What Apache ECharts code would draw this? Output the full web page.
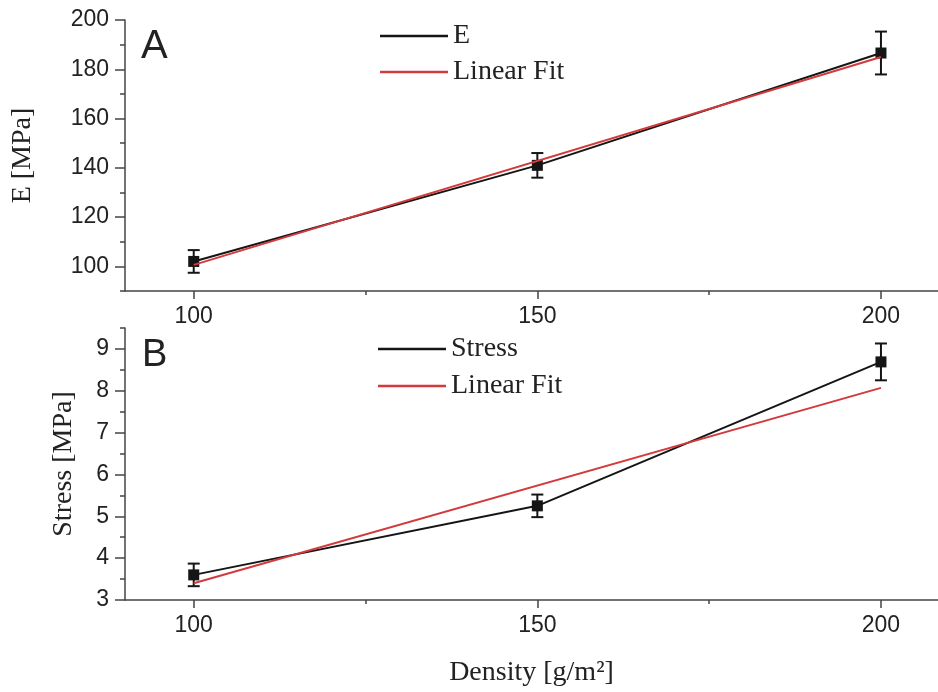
<!DOCTYPE html>
<html>
<head>
<meta charset="utf-8">
<script src="https://cdn.jsdelivr.net/npm/echarts@6/dist/echarts.min.js"></script>
<style>html,body{margin:0;padding:0;background:#fff;}#c{width:938px;height:692px;}</style>
</head>
<body>
<div id="c"></div>
<script>
// ---- data ----
const densities = [100, 150, 200];
const eMean = [102.0, 141.0, 186.6];
const eErr = [4.6, 5.0, 8.7];
const fitX = [100, 200];
const eFit = [100.6, 185.0];
const stressMean = [3.6, 5.25, 8.69];
const stressErr = [0.27, 0.27, 0.44];
const stressFit = [3.4, 8.07];

const xTicks = [100, 150, 200];
const xMinorTicks = [125, 175];
const eTicks = [100, 120, 140, 160, 180, 200];
const eMinorTicks = [90, 110, 130, 150, 170, 190];
const sTicks = [3, 4, 5, 6, 7, 8, 9];
const sMinorTicks = [3.5, 4.5, 5.5, 6.5, 7.5, 8.5, 9.5];

const SANS = '"Liberation Sans", Arial, sans-serif';
const SERIF = '"Liberation Serif", "Times New Roman", serif';
const AX = '#444';
const RED = '#d23a3c';
const BLK = '#151515';

function pairs(xs, ys) { return xs.map((x, i) => [x, ys[i]]); }
function errData(xs, m, e) { return xs.map((x, i) => [x, m[i] - e[i], m[i] + e[i]]); }

function errRender(params, api) {
  const x = api.value(0), lo = api.value(1), hi = api.value(2);
  const p1 = api.coord([x, hi]), p2 = api.coord([x, lo]);
  const w = 6;
  const st = { stroke: BLK, lineWidth: 2 };
  return { type: 'group', children: [
    { type: 'line', shape: { x1: p1[0], y1: p1[1], x2: p2[0], y2: p2[1] }, style: st },
    { type: 'line', shape: { x1: p1[0] - w, y1: p1[1], x2: p1[0] + w, y2: p1[1] }, style: st },
    { type: 'line', shape: { x1: p2[0] - w, y1: p2[1], x2: p2[0] + w, y2: p2[1] }, style: st }
  ]};
}

function xMajor(grid, name) {
  const a = {
    type: 'value', gridIndex: grid, position: 'bottom', min: 90, max: 208.3,
    axisLine: { show: true, lineStyle: { color: AX, width: 1.5 } },
    axisTick: { show: true, customValues: xTicks, length: 8, lineStyle: { color: AX, width: 1.5 } },
    axisLabel: { customValues: xTicks, fontFamily: SANS, fontSize: 23, color: '#222', margin: 14 },
    splitLine: { show: false }
  };
  if (name) {
    a.name = name; a.nameLocation = 'middle'; a.nameGap = 59;
    a.nameTextStyle = { fontFamily: SERIF, fontSize: 28, color: '#222' };
  }
  return a;
}
function xMinor(grid) {
  return {
    type: 'value', gridIndex: grid, position: 'bottom', min: 90, max: 208.3,
    axisLine: { show: false },
    axisTick: { show: true, customValues: xMinorTicks, length: 4, lineStyle: { color: AX, width: 1.5 } },
    axisLabel: { show: false }, splitLine: { show: false }
  };
}
function yMajor(grid, min, max, ticks, name, gap) {
  return {
    type: 'value', gridIndex: grid, position: 'left', min: min, max: max,
    axisLine: { show: true, lineStyle: { color: AX, width: 1.5 } },
    axisTick: { show: true, customValues: ticks, length: 10, lineStyle: { color: AX, width: 1.5 } },
    axisLabel: { customValues: ticks, fontFamily: SANS, fontSize: 23, color: '#222', margin: 16 },
    splitLine: { show: false },
    name: name, nameLocation: 'middle', nameGap: gap,
    nameTextStyle: { fontFamily: SERIF, fontSize: 28, color: '#222' }
  };
}
function yMinor(grid, min, max, ticks) {
  return {
    type: 'value', gridIndex: grid, position: 'left', min: min, max: max,
    axisLine: { show: false },
    axisTick: { show: true, customValues: ticks, length: 5, lineStyle: { color: AX, width: 1.5 } },
    axisLabel: { show: false }, splitLine: { show: false }
  };
}

const chart = echarts.init(document.getElementById('c'), null, { renderer: 'canvas' });
chart.setOption({
  backgroundColor: '#fff',
  animation: false,
  grid: [
    { left: 125, top: 20, width: 813, height: 271 },
    { left: 125, top: 328, width: 813, height: 272 }
  ],
  xAxis: [xMajor(0), xMinor(0), xMajor(1, 'Density [g/m²]'), xMinor(1)],
  yAxis: [
    yMajor(0, 90, 200, eTicks, 'E [MPa]', 88),
    yMinor(0, 90, 200, eMinorTicks),
    yMajor(1, 3, 9.5, sTicks, 'Stress [MPa]', 47),
    yMinor(1, 3, 9.5, sMinorTicks)
  ],
  legend: [
    { data: [{ name: 'E' }, { name: 'Linear Fit' }], orient: 'vertical', left: 375, top: 17,
      icon: 'rect', itemWidth: 68, itemHeight: 2.5, itemGap: 8, selectedMode: false,
      textStyle: { fontFamily: SERIF, fontSize: 28, color: '#222', lineHeight: 28 } },
    { data: [{ name: 'Stress' }, { name: 'Linear Fit' }], orient: 'vertical', left: 373, top: 330,
      icon: 'rect', itemWidth: 68, itemHeight: 2.5, itemGap: 9, selectedMode: false,
      textStyle: { fontFamily: SERIF, fontSize: 28, color: '#222', lineHeight: 28 } }
  ],
  graphic: [
    { type: 'text', left: 141, top: 27, style: { text: 'A', font: '40px ' + SANS, fill: '#222' } },
    { type: 'text', left: 142, top: 337, style: { text: 'B', font: '38px ' + SANS, fill: '#222' } }
  ],
  series: [
    { name: 'E', type: 'line', xAxisIndex: 0, yAxisIndex: 0, data: pairs(densities, eMean),
      symbol: 'rect', symbolSize: 11, lineStyle: { color: BLK, width: 2 }, itemStyle: { color: BLK } },
    { name: 'E err', type: 'custom', xAxisIndex: 0, yAxisIndex: 0, data: errData(densities, eMean, eErr),
      renderItem: errRender, clip: false, z: 3 },
    { name: 'Linear Fit', type: 'line', xAxisIndex: 0, yAxisIndex: 0, data: pairs(fitX, eFit),
      symbol: 'none', lineStyle: { color: RED, width: 2 }, itemStyle: { color: RED }, z: 4 },
    { name: 'Stress', type: 'line', xAxisIndex: 2, yAxisIndex: 2, data: pairs(densities, stressMean),
      symbol: 'rect', symbolSize: 11, lineStyle: { color: BLK, width: 2 }, itemStyle: { color: BLK } },
    { name: 'Stress err', type: 'custom', xAxisIndex: 2, yAxisIndex: 2, data: errData(densities, stressMean, stressErr),
      renderItem: errRender, clip: false, z: 3 },
    { name: 'Linear Fit', type: 'line', xAxisIndex: 2, yAxisIndex: 2, data: pairs(fitX, stressFit),
      symbol: 'none', lineStyle: { color: RED, width: 2 }, itemStyle: { color: RED }, z: 4 }
  ]
});
</script>
</body>
</html>
